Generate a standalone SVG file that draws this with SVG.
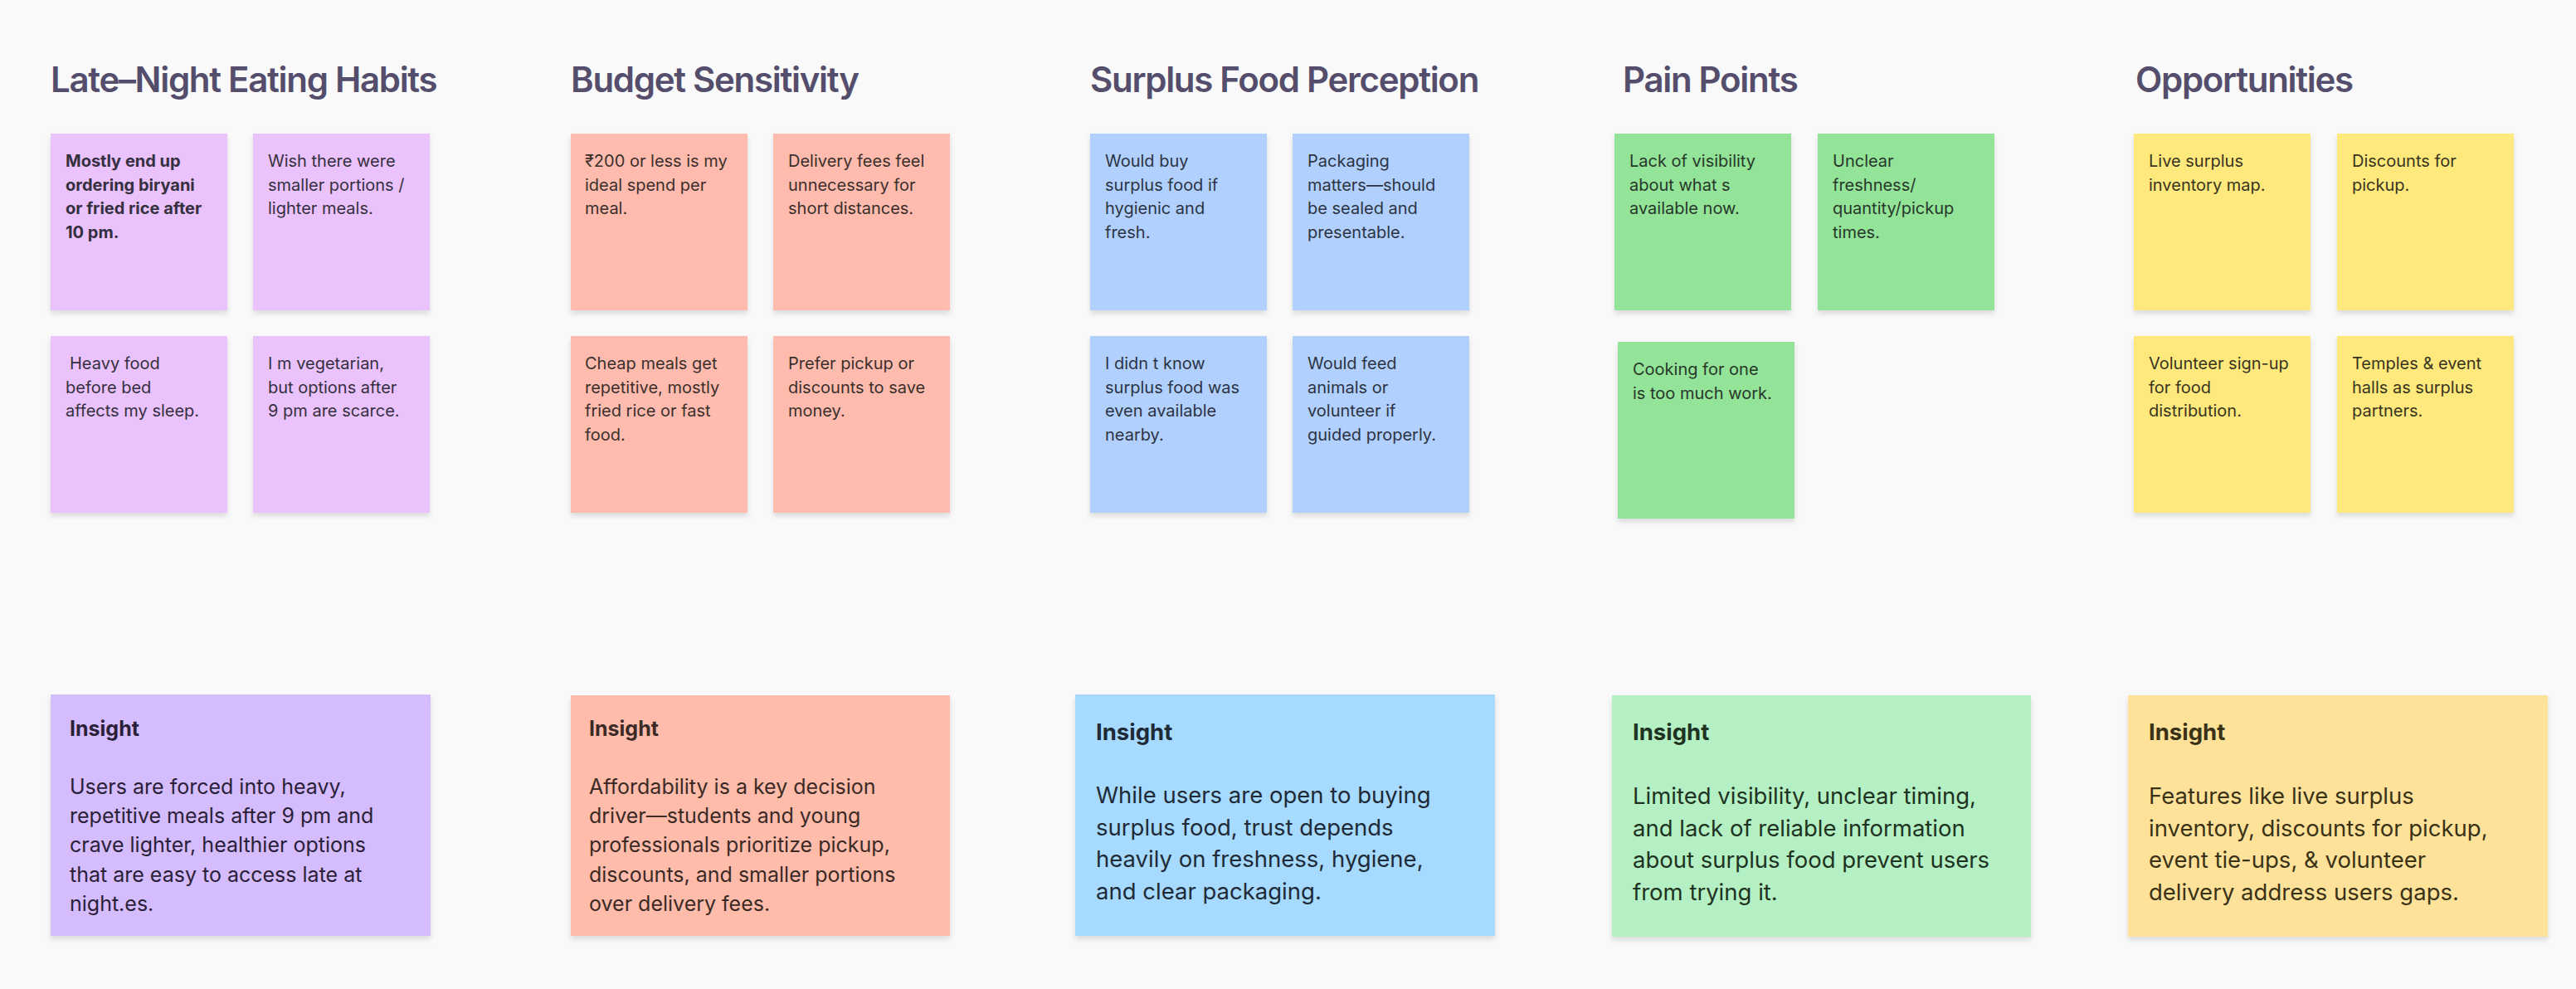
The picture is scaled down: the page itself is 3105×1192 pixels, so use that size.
<svg xmlns="http://www.w3.org/2000/svg" width="3105" height="1192" viewBox="0 0 3105 1192">
<defs>
<filter id="sh" x="-10%" y="-10%" width="120%" height="125%">
<feDropShadow dx="0" dy="4" stdDeviation="3" flood-color="#000" flood-opacity="0.12"/>
</filter>
</defs>
<style>
.title{font-family:Inter,"Noto Sans",sans-serif;font-weight:600;font-size:42px;fill:#544d6b;letter-spacing:-1.3px}
.s{font-family:Inter,"Noto Sans",sans-serif;font-size:20px}
.b{font-weight:700}
.ins1{font-family:Inter,"Noto Sans",sans-serif;font-size:25px}
.ins2{font-family:Inter,"Noto Sans",sans-serif;font-size:27.5px}
.lab{font-weight:700}
.pu{fill:#eac2fc}.sa{fill:#ffbcae}.bl{fill:#b1d0fe}.gr{fill:#93e398}.ye{fill:#ffe97b}
.ipu{fill:#d4bcfd}.isa{fill:#ffbcab}.ibl{fill:#a6dafe}.igr{fill:#b4f0c3}.iye{fill:#ffe29a}
.tpu{fill:#35303f}.tsa{fill:#3b2f2c}.tbl{fill:#2c3444}.tgr{fill:#27382a}.tye{fill:#393421}
.kpu{fill:#2a2138}.ksa{fill:#3b2a26}.kbl{fill:#1f2a38}.kgr{fill:#1e3322}.kye{fill:#3a3216}
</style>
<rect width="3105" height="1192" fill="#f9f9f9"/>

<g id="titles">
<text class="title" x="61" y="111">Late–Night Eating Habits</text>
<text class="title" x="688" y="111">Budget Sensitivity</text>
<text class="title" x="1314" y="111">Surplus Food Perception</text>
<text class="title" x="1956" y="111">Pain Points</text>
<text class="title" x="2574" y="111">Opportunities</text>
</g>

<g id="connectors"></g>

<!-- Late-night -->
<g id="n-late-1"><rect class="pu" x="61" y="161" width="213" height="213" filter="url(#sh)"/>
<text class="s b tpu" x="79" y="201"><tspan x="79">Mostly end up</tspan><tspan x="79" dy="28.7">ordering biryani</tspan><tspan x="79" dy="28.7">or fried rice after</tspan><tspan x="79" dy="28.7">10 pm.</tspan></text></g>
<g id="n-late-2"><rect class="pu" x="305" y="161" width="213" height="213" filter="url(#sh)"/>
<text class="s tpu" x="323" y="201"><tspan x="323">Wish there were</tspan><tspan x="323" dy="28.7">smaller portions /</tspan><tspan x="323" dy="28.7">lighter meals.</tspan></text></g>
<g id="n-late-3"><rect class="pu" x="61" y="405" width="213" height="213" filter="url(#sh)"/>
<text class="s tpu" x="79" y="445"><tspan x="84">Heavy food</tspan><tspan x="79" dy="28.7">before bed</tspan><tspan x="79" dy="28.7">affects my sleep.</tspan></text></g>
<g id="n-late-4"><rect class="pu" x="305" y="405" width="213" height="213" filter="url(#sh)"/>
<text class="s tpu" x="323" y="445"><tspan x="323">I m vegetarian,</tspan><tspan x="323" dy="28.7">but options after</tspan><tspan x="323" dy="28.7">9 pm are scarce.</tspan></text></g>

<!-- Budget -->
<g id="n-budget-1"><rect class="sa" x="688" y="161" width="213" height="213" filter="url(#sh)"/>
<text class="s tsa" x="705" y="201"><tspan x="705">₹200 or less is my</tspan><tspan x="705" dy="28.7">ideal spend per</tspan><tspan x="705" dy="28.7">meal.</tspan></text></g>
<g id="n-budget-2"><rect class="sa" x="932" y="161" width="213" height="213" filter="url(#sh)"/>
<text class="s tsa" x="950" y="201"><tspan x="950">Delivery fees feel</tspan><tspan x="950" dy="28.7">unnecessary for</tspan><tspan x="950" dy="28.7">short distances.</tspan></text></g>
<g id="n-budget-3"><rect class="sa" x="688" y="405" width="213" height="213" filter="url(#sh)"/>
<text class="s tsa" x="705" y="445"><tspan x="705">Cheap meals get</tspan><tspan x="705" dy="28.7">repetitive, mostly</tspan><tspan x="705" dy="28.7">fried rice or fast</tspan><tspan x="705" dy="28.7">food.</tspan></text></g>
<g id="n-budget-4"><rect class="sa" x="932" y="405" width="213" height="213" filter="url(#sh)"/>
<text class="s tsa" x="950" y="445"><tspan x="950">Prefer pickup or</tspan><tspan x="950" dy="28.7">discounts to save</tspan><tspan x="950" dy="28.7">money.</tspan></text></g>

<!-- Surplus -->
<g id="n-surplus-1"><rect class="bl" x="1314" y="161" width="213" height="213" filter="url(#sh)"/>
<text class="s tbl" x="1332" y="201"><tspan x="1332">Would buy</tspan><tspan x="1332" dy="28.7">surplus food if</tspan><tspan x="1332" dy="28.7">hygienic and</tspan><tspan x="1332" dy="28.7">fresh.</tspan></text></g>
<g id="n-surplus-2"><rect class="bl" x="1558" y="161" width="213" height="213" filter="url(#sh)"/>
<text class="s tbl" x="1576" y="201"><tspan x="1576">Packaging</tspan><tspan x="1576" dy="28.7">matters—should</tspan><tspan x="1576" dy="28.7">be sealed and</tspan><tspan x="1576" dy="28.7">presentable.</tspan></text></g>
<g id="n-surplus-3"><rect class="bl" x="1314" y="405" width="213" height="213" filter="url(#sh)"/>
<text class="s tbl" x="1332" y="445"><tspan x="1332">I didn t know</tspan><tspan x="1332" dy="28.7">surplus food was</tspan><tspan x="1332" dy="28.7">even available</tspan><tspan x="1332" dy="28.7">nearby.</tspan></text></g>
<g id="n-surplus-4"><rect class="bl" x="1558" y="405" width="213" height="213" filter="url(#sh)"/>
<text class="s tbl" x="1576" y="445"><tspan x="1576">Would feed</tspan><tspan x="1576" dy="28.7">animals or</tspan><tspan x="1576" dy="28.7">volunteer if</tspan><tspan x="1576" dy="28.7">guided properly.</tspan></text></g>

<!-- Pain points -->
<g id="n-pain-1"><rect class="gr" x="1946" y="161" width="213" height="213" filter="url(#sh)"/>
<text class="s tgr" x="1964" y="201"><tspan x="1964">Lack of visibility</tspan><tspan x="1964" dy="28.7">about what s</tspan><tspan x="1964" dy="28.7">available now.</tspan></text></g>
<g id="n-pain-2"><rect class="gr" x="2191" y="161" width="213" height="213" filter="url(#sh)"/>
<text class="s tgr" x="2209" y="201"><tspan x="2209">Unclear</tspan><tspan x="2209" dy="28.7">freshness/</tspan><tspan x="2209" dy="28.7">quantity/pickup</tspan><tspan x="2209" dy="28.7">times.</tspan></text></g>
<g id="n-pain-3"><rect class="gr" x="1950" y="412" width="213" height="213" filter="url(#sh)"/>
<text class="s tgr" x="1968" y="452"><tspan x="1968">Cooking for one</tspan><tspan x="1968" dy="28.7">is too much work.</tspan></text></g>

<!-- Opportunities -->
<g id="n-opp-1"><rect class="ye" x="2572" y="161" width="213" height="213" filter="url(#sh)"/>
<text class="s tye" x="2590" y="201"><tspan x="2590">Live surplus</tspan><tspan x="2590" dy="28.7">inventory map.</tspan></text></g>
<g id="n-opp-2"><rect class="ye" x="2817" y="161" width="213" height="213" filter="url(#sh)"/>
<text class="s tye" x="2835" y="201"><tspan x="2835">Discounts for</tspan><tspan x="2835" dy="28.7">pickup.</tspan></text></g>
<g id="n-opp-3"><rect class="ye" x="2572" y="405" width="213" height="213" filter="url(#sh)"/>
<text class="s tye" x="2590" y="445"><tspan x="2590">Volunteer sign-up</tspan><tspan x="2590" dy="28.7">for food</tspan><tspan x="2590" dy="28.7">distribution.</tspan></text></g>
<g id="n-opp-4"><rect class="ye" x="2817" y="405" width="213" height="213" filter="url(#sh)"/>
<text class="s tye" x="2835" y="445"><tspan x="2835">Temples &amp; event</tspan><tspan x="2835" dy="28.7">halls as surplus</tspan><tspan x="2835" dy="28.7">partners.</tspan></text></g>

<!-- Insights -->
<g id="n-insight-1"><rect class="ipu" x="61" y="837" width="458" height="291" filter="url(#sh)"/>
<text class="ins1 lab kpu" x="84" y="887">Insight</text>
<text class="ins1 kpu" x="84" y="957"><tspan x="84">Users are forced into heavy,</tspan><tspan x="84" dy="35.2">repetitive meals after 9 pm and</tspan><tspan x="84" dy="35.2">crave lighter, healthier options</tspan><tspan x="84" dy="35.2">that are easy to access late at</tspan><tspan x="84" dy="35.2">night.es.</tspan></text></g>
<g id="n-insight-2"><rect class="isa" x="688" y="838" width="457" height="290" filter="url(#sh)"/>
<text class="ins1 lab ksa" x="710" y="887">Insight</text>
<text class="ins1 ksa" x="710" y="957"><tspan x="710">Affordability is a key decision</tspan><tspan x="710" dy="35.2">driver—students and young</tspan><tspan x="710" dy="35.2">professionals prioritize pickup,</tspan><tspan x="710" dy="35.2">discounts, and smaller portions</tspan><tspan x="710" dy="35.2">over delivery fees.</tspan></text></g>
<g id="n-insight-3"><rect class="ibl" x="1296" y="837" width="506" height="291" filter="url(#sh)"/>
<text class="ins2 lab kbl" x="1321" y="892">Insight</text>
<text class="ins2 kbl" x="1321" y="968"><tspan x="1321">While users are open to buying</tspan><tspan x="1321" dy="38.6">surplus food, trust depends</tspan><tspan x="1321" dy="38.6">heavily on freshness, hygiene,</tspan><tspan x="1321" dy="38.6">and clear packaging.</tspan></text></g>
<g id="n-insight-4"><rect class="igr" x="1943" y="838" width="505" height="291" filter="url(#sh)"/>
<text class="ins2 lab kgr" x="1968" y="892">Insight</text>
<text class="ins2 kgr" x="1968" y="969"><tspan x="1968">Limited visibility, unclear timing,</tspan><tspan x="1968" dy="38.6">and lack of reliable information</tspan><tspan x="1968" dy="38.6">about surplus food prevent users</tspan><tspan x="1968" dy="38.6">from trying it.</tspan></text></g>
<g id="n-insight-5"><rect class="iye" x="2565" y="838" width="506" height="291" filter="url(#sh)"/>
<text class="ins2 lab kye" x="2590" y="892">Insight</text>
<text class="ins2 kye" x="2590" y="969"><tspan x="2590">Features like live surplus</tspan><tspan x="2590" dy="38.6">inventory, discounts for pickup,</tspan><tspan x="2590" dy="38.6">event tie-ups, &amp; volunteer</tspan><tspan x="2590" dy="38.6">delivery address users gaps.</tspan></text></g>
</svg>
